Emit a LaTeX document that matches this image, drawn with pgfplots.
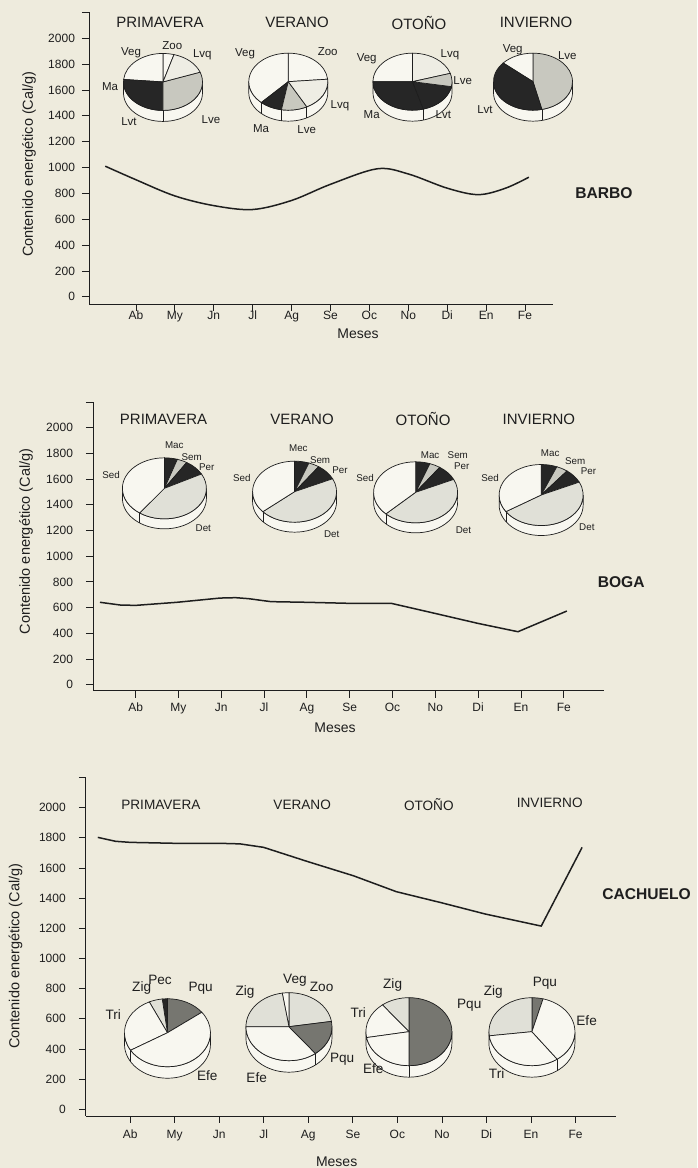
\documentclass[border=0pt]{standalone}
\usepackage{fontspec}
\setmainfont{Liberation Sans}
\usepackage{pgfplots}
\pgfplotsset{compat=1.18}
\definecolor{bg}{RGB}{238,235,221}
\definecolor{pw}{RGB}{248,247,240}
\definecolor{pv}{RGB}{238,237,228}
\definecolor{plg}{RGB}{200,200,191}
\definecolor{pvl}{RGB}{224,224,215}
\definecolor{pdk}{RGB}{38,38,38}
\definecolor{pmd}{RGB}{118,118,112}
\definecolor{ink}{RGB}{30,30,30}
\newcommand{\fs}[1]{\fontsize{#1}{#1}\selectfont}
\newcommand{\drawpie}[6]{%
  \begin{scope}[shift={(#1)}, line width=0.35pt]
    \filldraw[fill=pw, draw=ink] (-#2,0pt) -- (-#2,-#4) arc[start angle=180,end angle=360,x radius=#2,y radius=#3] -- (#2,0pt) arc[start angle=360,end angle=180,x radius=#2,y radius=#3] -- cycle;
    \foreach \a in {#6} {\draw[ink] (\a:#2 and #3) -- ++(0pt,-#4);}
    \foreach \a/\b/\c in {#5} {\filldraw[fill=\c, draw=ink] (0pt,0pt) -- (\a:#2 and #3) arc[start angle=\a, end angle=\b, x radius=#2, y radius=#3] -- cycle;}
  \end{scope}}
\def\plabfont{\fs{5.75pt}}
\newcommand{\plab}[4]{\node[font=\plabfont, text=ink, inner sep=0pt] at ([shift={(#2pt,#3pt)}]#1) {#4};}
\pgfplotsset{
  panel/.style={
    scale only axis, anchor=south west, clip=false,
    axis x line*=bottom, axis y line*=left,
    axis line style={line width=0.4pt, draw=ink},
    tick style={line width=0.4pt, draw=ink},
    tick align=outside, major tick length=3.5pt,
    xtick={1,...,11},
    xticklabels={Ab,My,Jn,Jl,Ag,Se,Oc,No,Di,En,Fe},
    ytick={0,200,...,2200},
    yticklabels={0,200,400,600,800,1000,1200,1400,1600,1800,2000,{}},
    ticklabel style={font=\fs{6pt}, text=ink},
    ymax=2200,
  },
}
\begin{document}
\begin{tikzpicture}
\fill[bg] (0pt,0pt) rectangle (348.5pt,584pt);
\useasboundingbox (0pt,0pt) rectangle (348.5pt,584pt);
% ---------------- BARBO ----------------
\begin{axis}[panel, at={(44.5pt,432pt)}, width=232pt, height=145.8pt,
  xmin=-0.208, xmax=11.72, ymin=-56, xticklabel style={yshift=3.5pt}]
\addplot[ink, line width=0.75pt, smooth, tension=0.55] coordinates {
(0.21,1010) (1,905) (2,780) (3,705) (4,675) (5,745) (6,870) (7.2,990) (8,950) (9,840) (9.8,790) (10.5,840) (11.1,925)};
\node[font=\fs{7.5pt}, text=ink] at (axis cs:1.617,2121) {PRIMAVERA};
\node[font=\fs{7.5pt}, text=ink] at (axis cs:5.139,2121) {VERANO};
\node[font=\fs{7.5pt}, text=ink] at (axis cs:8.275,2121) {OTOÑO};
\node[font=\fs{7.5pt}, text=ink] at (axis cs:11.283,2121) {INVIERNO};
\node[font=\bfseries\fs{7.8pt}, text=ink] at (axis cs:13.03,803) {BARBO};
\node[rotate=90, font=\fs{7.25pt}, text=ink] at (rel axis cs:-0.129,0.48) {Contenido energético (Cal/g)};
\node[font=\fs{7pt}, text=ink] at (axis cs:6.71,-290) {Meses};
\coordinate (P1) at (axis cs:1.694,1662);
\coordinate (P2) at (axis cs:4.915,1664);
\coordinate (P3) at (axis cs:8.108,1664);
\coordinate (P4) at (axis cs:11.206,1664);
\end{axis}
% ---------------- BOGA ----------------
\begin{axis}[panel, at={(46.5pt,238.65pt)}, width=255.5pt, height=144.35pt,
  xmin=0.005, xmax=11.94, ymin=-47, yticklabel style={xshift=-3pt}, xticklabel style={yshift=1pt}]
\addplot[ink, line width=0.75pt] coordinates {
(0.168,641) (0.636,620) (1.0,617) (1.965,641) (2.972,674) (3.336,677) (3.647,669) (3.979,654) (4.166,646) (4.998,641) (5.983,633) (6.970,633) (7.988,555) (8.995,477) (9.930,412) (11.072,573)};
\node[font=\fs{7.5pt}, text=ink] at (axis cs:1.654,2068) {PRIMAVERA};
\node[font=\fs{7.5pt}, text=ink] at (axis cs:4.888,2068) {VERANO};
\node[font=\fs{7.5pt}, text=ink] at (axis cs:7.715,2068) {OTOÑO};
\node[font=\fs{7.5pt}, text=ink] at (axis cs:10.418,2068) {INVIERNO};
\node[font=\bfseries\fs{7.8pt}, text=ink] at (axis cs:12.341,801) {BOGA};
\node[rotate=90, font=\fs{7.25pt}, text=ink] at (rel axis cs:-0.131,0.517) {Contenido energético (Cal/g)};
\node[font=\fs{7pt}, text=ink] at (axis cs:5.659,-337) {Meses};
\coordinate (Q1) at (axis cs:1.673,1528);
\coordinate (Q2) at (axis cs:4.713,1502);
\coordinate (Q3) at (axis cs:7.540,1497);
\coordinate (Q4) at (axis cs:10.472,1476);
\end{axis}
% ---------------- CACHUELO ----------------
\begin{axis}[panel, at={(42.9pt,26pt)}, width=264.9pt, height=169.25pt,
  xmin=0.003, xmax=11.90, ymin=-44, yticklabel style={xshift=-3pt}]
\addplot[ink, line width=0.75pt] coordinates {
(0.273,1803) (0.672,1777) (1.0,1770) (1.968,1764) (2.967,1764) (3.465,1760) (3.995,1737) (4.992,1642) (6.009,1549) (6.977,1443) (7.985,1370) (8.973,1295) (10.23,1215) (11.148,1737)};
\node[font=\fs{6.8pt}, text=ink] at (axis cs:1.689,2018) {PRIMAVERA};
\node[font=\fs{6.8pt}, text=ink] at (axis cs:4.862,2018) {VERANO};
\node[font=\fs{6.8pt}, text=ink] at (axis cs:7.706,2018) {OTOÑO};
\node[font=\fs{6.8pt}, text=ink] at (axis cs:10.421,2029) {INVIERNO};
\node[font=\bfseries\fs{7.8pt}, text=ink] at (axis cs:12.596,1428) {CACHUELO};
\node[rotate=90, font=\fs{7.25pt}, text=ink] at (rel axis cs:-0.1325,0.472) {Contenido energético (Cal/g)};
\node[font=\fs{7pt}, text=ink] at (axis cs:5.636,-347) {Meses};
\coordinate (R1) at (axis cs:1.837,508);
\coordinate (R2) at (axis cs:4.565,548);
\coordinate (R3) at (axis cs:7.259,515);
\coordinate (R4) at (axis cs:10.021,515);
\end{axis}
% ---------------- pies BARBO ----------------
\drawpie{P1}{19.75pt}{14.25pt}{5.5pt}{73.8/90/pw, 90/175/pw, 175/270/pdk, 270/380/plg, 20/73.8/pv}{270}
\drawpie{P2}{19.75pt}{14.25pt}{5.5pt}{5/90/pw, 90/227/pw, 227/260/pdk, 260/298/plg, 298/365/pv}{227,260,298}
\drawpie{P3}{19.75pt}{14.25pt}{5.5pt}{17/90/pv, 90/180/pw, 180/286/pdk, 286/350/pdk, 350/377/plg}{286}
\drawpie{P4}{19.75pt}{14.25pt}{5.5pt}{283/450/plg, 90/139/pw, 139/283/pdk}{283}
\def\plabfont{\fs{5.75pt}}
\plab{P1}{-16}{14.65}{Veg}\plab{P1}{4.65}{18}{Zoo}\plab{P1}{19.65}{13.5}{Lvq}\plab{P1}{-26.5}{-2.35}{Ma}\plab{P1}{-17}{-19.85}{Lvt}\plab{P1}{24}{-18.65}{Lve}
\plab{P2}{-21.65}{14.2}{Veg}\plab{P2}{19.7}{15}{Zoo}\plab{P2}{25.85}{-12.15}{Lvq}\plab{P2}{-13.65}{-23.3}{Ma}\plab{P2}{9.2}{-23.8}{Lve}
\plab{P3}{-22.9}{11.7}{Veg}\plab{P3}{18.75}{13.35}{Lvq}\plab{P3}{25.1}{0.5}{Lve}\plab{P3}{-20.4}{-16.65}{Ma}\plab{P3}{15.4}{-16.65}{Lvt}
\plab{P4}{-10.15}{15.85}{Veg}\plab{P4}{17.15}{12.85}{Lve}\plab{P4}{-24}{-14.15}{Lvt}
% ---------------- pies BOGA ----------------
\drawpie{Q1}{21pt}{15.25pt}{5pt}{72/90/pdk, 58/72/plg, 28/58/pdk, 234/388/pvl, 90/234/pw}{234}
\drawpie{Q2}{21pt}{15.25pt}{5pt}{70/90/pdk, 55/70/plg, 25/55/pdk, 221/385/pvl, 90/221/pw}{221}
\drawpie{Q3}{21pt}{15.25pt}{5pt}{70/90/pdk, 55/70/plg, 25/55/pdk, 225/385/pvl, 90/225/pw}{225}
\drawpie{Q4}{21pt}{15.25pt}{5pt}{68/90/pdk, 52/68/plg, 25/52/pdk, 213/385/pvl, 90/213/pw}{213}
\def\plabfont{\fs{4.9pt}}
\plab{Q1}{4.95}{21.65}{Mac}\plab{Q1}{13.65}{15.5}{Sem}\plab{Q1}{21.15}{10.5}{Per}\plab{Q1}{-26.7}{6.65}{Sed}\plab{Q1}{19.45}{-20}{Det}
\plab{Q2}{1.9}{21.7}{Mec}\plab{Q2}{12.75}{15.85}{Sem}\plab{Q2}{22.75}{10.5}{Per}\plab{Q2}{-26.4}{6.7}{Sed}\plab{Q2}{18.6}{-21.15}{Det}
\plab{Q3}{7.25}{18.65}{Mac}\plab{Q3}{21.1}{18.65}{Sem}\plab{Q3}{23.1}{13.15}{Per}\plab{Q3}{-25.25}{7.3}{Sed}\plab{Q3}{23.9}{-18.85}{Det}
\plab{Q4}{4.5}{20.85}{Mac}\plab{Q4}{17}{17.15}{Sem}\plab{Q4}{23.65}{12.15}{Per}\plab{Q4}{-25.5}{8.35}{Sed}\plab{Q4}{22.85}{-16.15}{Det}
% ---------------- pies CACHUELO ----------------
\drawpie{R1}{21.5pt}{17pt}{5.75pt}{37/90/pmd, 90/97/pdk, 97/115/pvl, 115/211/pw, 211/397/pw}{211}
\drawpie{R2}{21.5pt}{17pt}{5.75pt}{9/90/pvl, 90/99/pw, 99/180/pvl, 180/308/pw, 308/369/pmd}{308}
\drawpie{R3}{21.5pt}{17pt}{5.75pt}{270/450/pmd, 90/128/pvl, 128/190/pw, 190/270/pw}{270}
\drawpie{R4}{21.5pt}{17pt}{5.75pt}{75/90/pmd, 90/187/pvl, 187/306/pw, 306/435/pw}{306}
\def\plabfont{\fs{6.8pt}}
\plab{R1}{-3.75}{26.35}{Pec}\plab{R1}{-12.9}{22.2}{Zig}\plab{R1}{16.6}{22.2}{Pqu}\plab{R1}{-27.1}{8.85}{Tri}\plab{R1}{19.9}{-21.65}{Efe}
\plab{R2}{3}{23.35}{Veg}\plab{R2}{16.35}{20}{Zoo}\plab{R2}{-22}{17.5}{Zig}\plab{R2}{-16.15}{-25.3}{Efe}\plab{R2}{26.6}{-16.3}{Pqu}
\plab{R3}{-8.15}{23.35}{Zig}\plab{R3}{-25.35}{9.5}{Tri}\plab{R3}{30.15}{13.35}{Pqu}\plab{R3}{-17.85}{-18.3}{Efe}
\plab{R4}{-19.35}{20}{Zig}\plab{R4}{6.5}{24.2}{Pqu}\plab{R4}{27.35}{5.5}{Efe}\plab{R4}{-17.65}{-21.15}{Tri}
\end{tikzpicture}
\end{document}
